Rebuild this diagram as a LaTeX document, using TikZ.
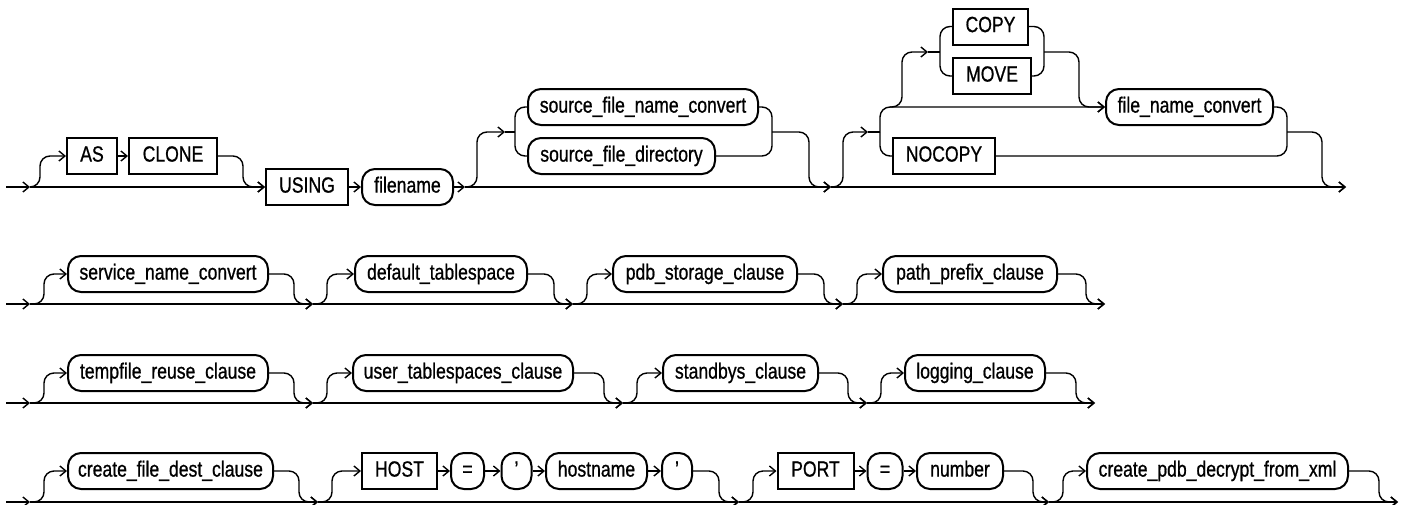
\documentclass[tikz,border=0pt]{standalone}
\usepackage{fontspec}
\setmainfont{Liberation Sans}[FakeStretch=0.8, FakeBold=0.8]
\usetikzlibrary{arrows.meta,calc}
\newcommand\optitem[3]{%
  \draw[arr] (#1) -- ++(14,0) |- (#2.west);
  \draw[arr] (#2.east) -| ($(#3)+(-19,0)$) -- (#3);
  \draw[arr] (#1) -- (#3);}
\begin{document}
\begin{tikzpicture}[x=1pt,y=-1pt,
  kw/.style={draw, line width=2pt, minimum height=36pt, inner sep=0pt,
    text height=15.5pt, text depth=4.3pt, font=\fontsize{22pt}{24pt}\selectfont},
  nt/.style={kw, rounded corners=13pt},
  ln/.style={line width=1.4pt, rounded corners=10pt},
  arr/.style={ln, -{Straight Barb[length=6pt,width=10pt]}}]
\useasboundingbox (0,0) rectangle (1411,504);

% ---------- Row 1 ----------
\coordinate (S1) at (6,187);
\coordinate (J1a) at (30,187);
\coordinate (J1b) at (465,187);
\coordinate (A1) at (505,132);
\coordinate (L1) at (515,132);
\coordinate (M1) at (772,132);
\coordinate (J1c) at (831,187);
\coordinate (A2) at (868,132);
\coordinate (L2) at (880,132);
\coordinate (B1) at (890,107);
\coordinate (A3) at (928,52);
\coordinate (L3) at (940,52);
\coordinate (M3) at (1044,52);
\coordinate (M2) at (1287,132);
\coordinate (E1) at (1346,187);

\node[kw, minimum width=50pt] (as) at (92,156) {AS};
\node[kw, minimum width=88pt] (clone) at (173,156) {CLONE};
\node[kw, minimum width=82pt] (using) at (307,187) {USING};
\node[nt, minimum width=91pt] (filename) at (407.5,187) {filename};
\node[nt, minimum width=230pt] (sfnc) at (643,107) {source\_file\_name\_convert};
\node[nt, minimum width=187pt] (sfd) at (621.5,156) {source\_file\_directory};
\node[kw, minimum width=75pt] (copy) at (990.5,26.5) {COPY};
\node[kw, minimum width=78pt] (move) at (992,76) {MOVE};
\node[kw, minimum width=102pt] (nocopy) at (944,156) {NOCOPY};
\node[nt, minimum width=167pt] (fnc) at (1189.5,107) {file\_name\_convert};

\draw[arr] (S1) -- (J1a);
\draw[arr] (J1a) -- ++(10,0) |- (as.west);
\draw[arr] (as) -- (clone);
\draw[arr] (clone.east) -| ($(using.west)+(-22,0)$) -- (using.west);
\draw[arr] (J1a) -- (using.west);
\draw[arr] (using) -- (filename);
\draw[arr] (filename) -- (J1b);
\draw[arr] (J1b) -- ++(12,0) |- (A1);
\draw[ln] (A1) -- (L1);
\draw[ln] (sfnc.west) -| (L1) |- (sfd.west);
\draw[ln] (sfnc.east) -| (M1) |- (sfd.east);
\draw[arr] (M1) -| ($(J1c)+(-22,0)$) -- (J1c);
\draw[arr] (J1b) -- (J1c);
\draw[arr] (J1c) -- ++(12,0) |- (A2);
\draw[ln] (A2) -- (L2);
\draw[arr] (L2) |- (fnc.west);
\draw[ln] (L2) |- (nocopy.west);
\draw[arr] (B1) -- ++(12,0) |- (A3);
\draw[ln] (A3) -- (L3);
\draw[ln] (copy.west) -| (L3) |- (move.west);
\draw[ln] (copy.east) -| (M3) |- (move.east);
\draw[arr] (M3) -| ($(fnc.west)+(-26,0)$) -- (fnc.west);
\draw[ln] (fnc.east) -| (M2) |- (nocopy.east);
\draw[arr] (M2) -| ($(E1)+(-24,0)$) -- (E1);
\draw[arr] (J1c) -- (E1);

% ---------- Row 2 ----------
\coordinate (S2) at (6,304);
\coordinate (J2a) at (30,304);
\coordinate (J2b) at (313,304);
\coordinate (J2c) at (573,304);
\coordinate (J2d) at (843,304);
\coordinate (E2) at (1105,304);
\node[nt, minimum width=200pt] (snc) at (168,274) {service\_name\_convert};
\node[nt, minimum width=172pt] (dts) at (441,274) {default\_tablespace};
\node[nt, minimum width=184pt] (pdb) at (705,274) {pdb\_storage\_clause};
\node[nt, minimum width=174pt] (ppc) at (970,274) {path\_prefix\_clause};
\draw[arr] (S2) -- (J2a);
\optitem{J2a}{snc}{J2b}
\optitem{J2b}{dts}{J2c}
\optitem{J2c}{pdb}{J2d}
\optitem{J2d}{ppc}{E2}

% ---------- Row 3 ----------
\coordinate (S3) at (6,403);
\coordinate (J3a) at (30,403);
\coordinate (J3b) at (313,403);
\coordinate (J3c) at (623,403);
\coordinate (J3d) at (867,403);
\coordinate (E3) at (1095,403);
\node[nt, minimum width=200pt] (tfr) at (168,373) {tempfile\_reuse\_clause};
\node[nt, minimum width=220pt] (uts) at (463,373) {user\_tablespaces\_clause};
\node[nt, minimum width=155pt] (sbc) at (740.5,373) {standbys\_clause};
\node[nt, minimum width=140pt] (lgc) at (975,373) {logging\_clause};
\draw[arr] (S3) -- (J3a);
\optitem{J3a}{tfr}{J3b}
\optitem{J3b}{uts}{J3c}
\optitem{J3c}{sbc}{J3d}
\optitem{J3d}{lgc}{E3}

% ---------- Row 4 ----------
\coordinate (S4) at (6,502);
\coordinate (J4a) at (30,502);
\coordinate (J4b) at (318,502);
\coordinate (J4c) at (739,502);
\coordinate (J4d) at (1049,502);
\coordinate (E4) at (1398,502);
\node[nt, minimum width=205pt] (cfd) at (170.5,471) {create\_file\_dest\_clause};
\node[kw, minimum width=75pt] (host) at (399.5,471) {HOST};
\node[nt, minimum width=33pt] (eq1) at (467.5,471) {=};
\node[nt, minimum width=30pt] (q1) at (516.5,471) {'};
\node[nt, minimum width=101pt] (hostname) at (596.5,471) {hostname};
\node[nt, minimum width=30pt] (q2) at (677,471) {'};
\node[kw, minimum width=76pt] (port) at (815.5,471) {PORT};
\node[nt, minimum width=35pt] (eq2) at (885,471) {=};
\node[nt, minimum width=86pt] (number) at (960,471) {number};
\node[nt, minimum width=261pt] (cpdx) at (1217.5,471) {create\_pdb\_decrypt\_from\_xml};

\draw[arr] (S4) -- (J4a);
\optitem{J4a}{cfd}{J4b}
\draw[arr] (J4b) -- ++(14,0) |- (host.west);
\draw[arr] (host) -- (eq1);
\draw[arr] (eq1) -- (q1);
\draw[arr] (q1) -- (hostname);
\draw[arr] (hostname) -- (q2);
\draw[arr] (q2.east) -| ($(J4c)+(-20,0)$) -- (J4c);
\draw[arr] (J4b) -- (J4c);
\draw[arr] (J4c) -- ++(14,0) |- (port.west);
\draw[arr] (port) -- (eq2);
\draw[arr] (eq2) -- (number);
\draw[arr] (number.east) -| ($(J4d)+(-16,0)$) -- (J4d);
\draw[arr] (J4c) -- (J4d);
\optitem{J4d}{cpdx}{E4}
\end{tikzpicture}
\end{document}
